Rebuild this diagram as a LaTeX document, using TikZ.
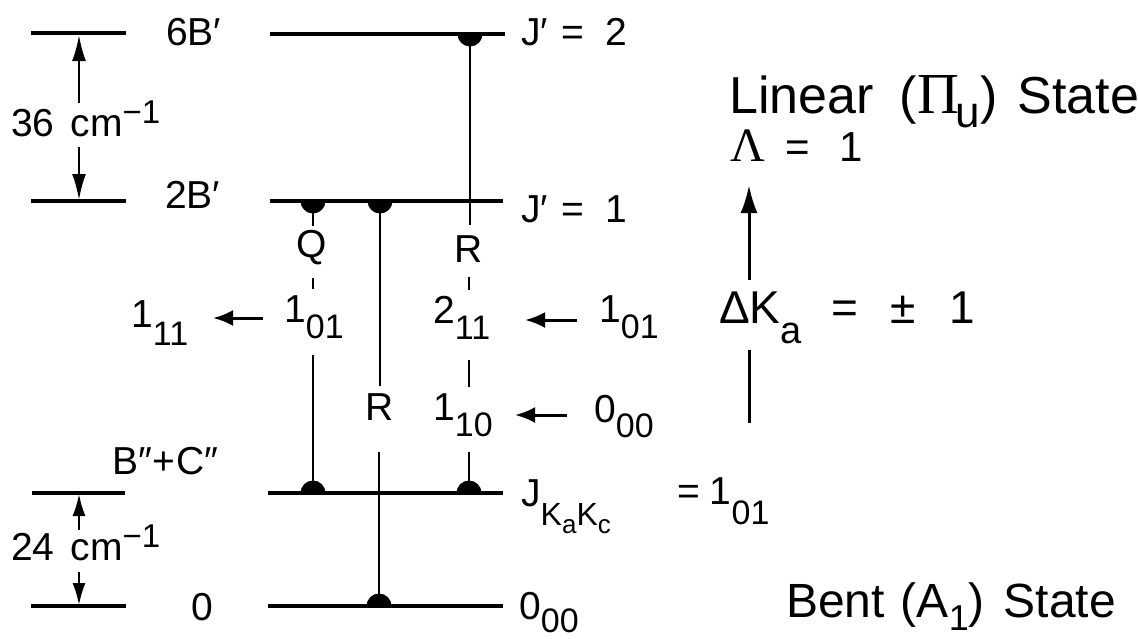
\documentclass[tikz,border=0pt]{standalone}
\usepackage{fontspec}
\setmainfont{Liberation Sans}
\newfontfamily\grk{Liberation Serif}
\usetikzlibrary{arrows.meta}
\newcommand\fsz[1]{\fontsize{#1}{#1}\selectfont}
\newcommand\lsub[2][16]{\raisebox{-#1pt}{\fsz{34}#2}}
\newcommand\halfdown[2]{\fill (#1-12.5,#2) arc[start angle=180,end angle=0,radius=12.5] -- cycle;}
\newcommand\halfup[2]{\fill (#1-12.5,#2) arc[start angle=180,end angle=360,radius=12.5] -- cycle;}
\begin{document}
\begin{tikzpicture}[x=1pt,y=-1pt,
  lvl/.style={line width=3.4pt},
  trans/.style={line width=2.8pt},
  dimarrow/.style={line width=2.4pt,-{Latex[length=26pt,width=14pt]}},
  dimarrowsm/.style={line width=2.2pt,-{Latex[length=22pt,width=13pt]}},
  harrow/.style={line width=3pt,-{Latex[length=20pt,width=16pt]}},
  bigarrow/.style={line width=3pt,-{Latex[length=28pt,width=17pt]}},
  lbl/.style={inner sep=0pt,anchor=base west,font=\fsz{39}},
  branch/.style={inner sep=0pt,font=\fsz{39}}]
\fill[white] (0,0) rectangle (1138,638);
\useasboundingbox (0,0) rectangle (1138,638);

% ---- energy levels (left scale) ----
\draw[lvl] (31,33) -- (126,33);
\draw[lvl] (31,201) -- (126,201);
\draw[lvl] (32,493) -- (125,493);
\draw[lvl] (31,606) -- (126,606);
% ---- energy levels (main) ----
\draw[lvl] (270,34) -- (505,34);
\draw[lvl] (270,201) -- (503,201);
\draw[lvl] (268,493) -- (503,493);
\draw[lvl] (268,606) -- (503,606);

% ---- dimension arrows ----
\coordinate (a36t) at (79,35);  \coordinate (a36u) at (79,103);
\coordinate (a36d) at (79,147); \coordinate (a36b) at (79,200);
\coordinate (a24t) at (79,494); \coordinate (a24u) at (79,530);
\coordinate (a24d) at (79,572); \coordinate (a24b) at (79,605);
\draw[dimarrow] (a36u) -- (a36t);
\draw[dimarrow] (a36d) -- (a36b);
\draw[dimarrowsm] (a24u) -- (a24t);
\draw[dimarrowsm] (a24d) -- (a24b);

% ---- left labels ----
\node[lbl] (l6B) at (166,45) {6B′};
\node[lbl] (l2B) at (165,208) {2B′};
\node[lbl] (l36) at (11,136) {36\hspace{16pt}cm\raisebox{13pt}{\fsz{33}−1}};
\node[lbl] (lBC) at (112,474) {B″\hspace{1pt}+\hspace{1pt}C″};
\node[lbl] (l24) at (11,560) {24\hspace{16pt}cm\raisebox{13pt}{\fsz{33}−1}};
\node[lbl] (l0) at (191,620) {0};

% ---- right-of-level labels ----
\node[lbl] (lJ2) at (521,45) {J′\hspace{13pt}=\hspace{22pt}2};
\node[lbl] (lJ1) at (521,222) {J′\hspace{13pt}=\hspace{22pt}1};
\node[lbl] (lJK) at (521,506) {J\raisebox{-19pt}{\fsz{32}K\raisebox{-8pt}{\fsz{26}a}K\raisebox{-8pt}{\fsz{26}c}}};
\node[lbl] (lEq) at (677,504) {=\hspace{10pt}1\lsub[20]{01}};
\node[lbl] (l000) at (519,619) {0\lsub[13]{00}};

% ---- half-disc markers ----
\halfdown{313}{201}
\halfdown{380}{201}
\halfdown{470}{34}
\halfup{313}{493}
\halfup{469}{493}
\halfup{379}{606}

% ---- transition lines and branch labels ----
\node[branch] (Q) at (312,248) {Q};
\node[branch] (Rr) at (469,249) {R};
\node[branch] (Rm) at (380,407) {R};
\node[lbl] (q101) at (284,322) {1\lsub{01}};
\node[lbl] (r211) at (433,323) {2\lsub{11}};
\node[lbl] (r110) at (433,420) {1\lsub{10}};

\coordinate (q1) at (313,201); \coordinate (q2) at (313,226);
\coordinate (q3) at (313,278); \coordinate (q4) at (313,289);
\coordinate (q5) at (313,355); \coordinate (q6) at (313,493);
\draw[trans] (q1) -- (q2);
\draw[trans] (q3) -- (q4);
\draw[trans] (q5) -- (q6);

\coordinate (m1) at (380,201); \coordinate (m2) at (380,386);
\coordinate (m3) at (379,452); \coordinate (m4) at (379,606);
\draw[trans] (m1) -- (m2);
\draw[trans] (m3) -- (m4);

\coordinate (r1) at (470,34);  \coordinate (r2) at (470,225);
\coordinate (r3) at (469,277); \coordinate (r4) at (469,290);
\coordinate (r5) at (469,360); \coordinate (r6) at (469,387);
\coordinate (r7) at (469,452); \coordinate (r8) at (469,493);
\draw[trans] (r1) -- (r2);
\draw[trans] (r3) -- (r4);
\draw[trans] (r5) -- (r6);
\draw[trans] (r7) -- (r8);

% ---- K-level correlations ----
\node[lbl] (l111) at (131,327) {1\lsub[18]{11}};
\node[lbl] (l101r) at (599,322) {1\lsub{01}};
\node[lbl] (l000r) at (594,422) {0\lsub[15]{00}};
\coordinate (h1a) at (263,318); \coordinate (h1b) at (213,318);
\coordinate (h2a) at (577,320); \coordinate (h2b) at (525,320);
\coordinate (h3a) at (567,415); \coordinate (h3b) at (515,415);
\draw[harrow] (h1a) -- (h1b);
\draw[harrow] (h2a) -- (h2b);
\draw[harrow] (h3a) -- (h3b);

% ---- right-hand annotations ----
\node[lbl,font=\fsz{52}] (lin) at (729,113)
  {Linear\hspace{26pt}({\fsz{58}\grk Π}\hspace{-3pt}\raisebox{-14pt}{\fsz{44}u})\hspace{20pt}State};
\node[lbl,font=\fsz{42}] (lam) at (730,161)
  {{\fsz{48}\grk Λ}\hspace{20pt}=\hspace{30pt}1};
\node[lbl,font=\fsz{46}] (dK) at (719,323)
  {ΔK\raisebox{-20pt}{\fsz{38}a}\hspace{30pt}=\hspace{32pt}±\hspace{34pt}1};
\node[lbl,font=\fsz{48}] (bent) at (786,617)
  {Bent\hspace{16pt}(A\raisebox{-13pt}{\fsz{36}1})\hspace{19pt}State};
\coordinate (ka1) at (749,280); \coordinate (ka2) at (749,185);
\coordinate (ka3) at (749,350); \coordinate (ka4) at (749,423);
\draw[bigarrow] (ka1) -- (ka2);
\draw[line width=3pt] (ka3) -- (ka4);
\end{tikzpicture}
\end{document}
